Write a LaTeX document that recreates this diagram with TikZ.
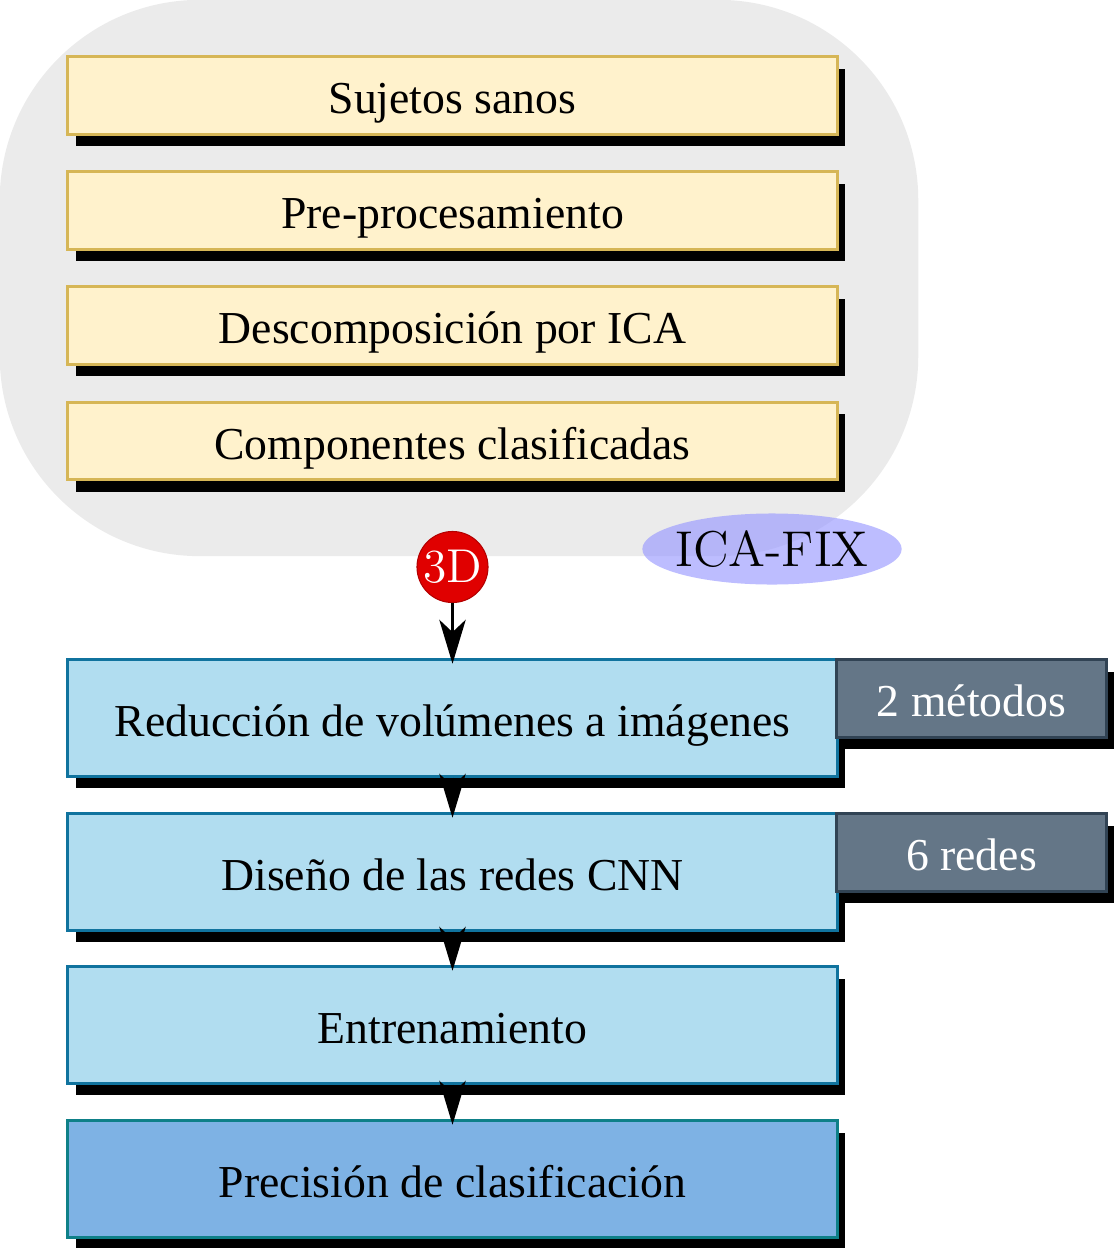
\documentclass[tikz,border=0pt]{standalone}
\usepackage{fontspec}
\setmainfont{Liberation Serif}
\usetikzlibrary{arrows.meta,shadows,shapes.geometric}
\definecolor{grayback}{HTML}{EBEBEB}
\definecolor{yelfill}{HTML}{FFF2CC}
\definecolor{yeldraw}{HTML}{D6B656}
\definecolor{bluefill}{HTML}{B1DDF0}
\definecolor{bluedraw}{HTML}{10739E}
\definecolor{darkfill}{HTML}{647687}
\definecolor{darkdraw}{HTML}{314354}
\definecolor{precfill}{HTML}{7EB2E4}
\definecolor{precdraw}{HTML}{0E8088}
\definecolor{redfill}{HTML}{E00000}
\definecolor{lilac}{HTML}{9999FF}
\tikzset{
  boxshadow/.style={drop shadow={shadow xshift=0.08cm, shadow yshift=-0.12cm, fill=black, opacity=1}},
  txt/.style={font=\fontsize{13}{15}\selectfont, text height=12pt, text depth=1.5pt},
  yelbox/.style={rectangle, fill=yelfill, draw=yeldraw, line width=0.85pt, minimum width=7.69cm, minimum height=0.77cm, inner sep=0pt, boxshadow, txt},
  bluebox/.style={rectangle, fill=bluefill, draw=bluedraw, line width=0.85pt, minimum width=7.69cm, minimum height=1.16cm, inner sep=0pt, boxshadow, txt},
  precbox/.style={bluebox, fill=precfill, draw=precdraw},
  darkbox/.style={rectangle, fill=darkfill, draw=darkdraw, line width=0.85pt, minimum width=2.69cm, minimum height=0.77cm, inner sep=0pt, boxshadow, txt, text=white},
  flow/.style={line width=0.85pt, -{Stealth[length=12.5pt, width=7.5pt, inset=3.5pt]}, shorten >=-1.5pt}
}
\begin{document}
\begin{tikzpicture}[x=0.01cm, y=-0.01cm]
\useasboundingbox (0,0) rectangle (1116,1248);
% grey group
\node[rectangle, fill=grayback, rounded corners=2cm, minimum width=9.18cm, minimum height=5.56cm, inner sep=0pt] (grp) at (459,278) {};
% yellow boxes
\node[yelbox] (y1) at (452.5,95.5) {Sujetos sanos};
\node[yelbox] (y2) at (452.5,210.5) {Pre-procesamiento};
\node[yelbox] (y3) at (452.5,325.5) {Descomposición por ICA};
\node[yelbox] (y4) at (452.5,441) {Componentes clasificadas};
% ICA-FIX label
\node[ellipse, fill=lilac, fill opacity=0.65, text opacity=1, minimum width=2.54cm, minimum height=0.71cm, inner xsep=-0.05cm, inner ysep=0pt, font=\fontfamily{lmr}\fontsize{14.3}{16}\selectfont] (fix) at (772,549) {ICA-FIX};
% 3D circle
\node[circle, fill=redfill, draw=redfill!80!black, line width=0.3pt, minimum size=0.71cm, inner sep=0pt, text=white, font=\fontfamily{lmr}\fontsize{13.5}{15}\selectfont] (c3d) at (452.5,567) {3D};
% blue boxes
\node[bluebox] (r1) at (452.5,718) {Reducción de volúmenes a imágenes};
\node[bluebox] (r2) at (452.5,872) {Diseño de las redes CNN};
\node[bluebox] (r3) at (452.5,1025) {Entrenamiento};
\node[precbox] (r4) at (452.5,1179) {Precisión de clasificación};
% dark side boxes
\node[darkbox] (d1) at (971.5,698.5) {2 métodos};
\node[darkbox] (d2) at (971.5,852.5) {6 redes};
% connectors
\draw[flow] (c3d) -- (r1);
\draw[flow] (r1) -- (r2);
\draw[flow] (r2) -- (r3);
\draw[flow] (r3) -- (r4);
\end{tikzpicture}
\end{document}
